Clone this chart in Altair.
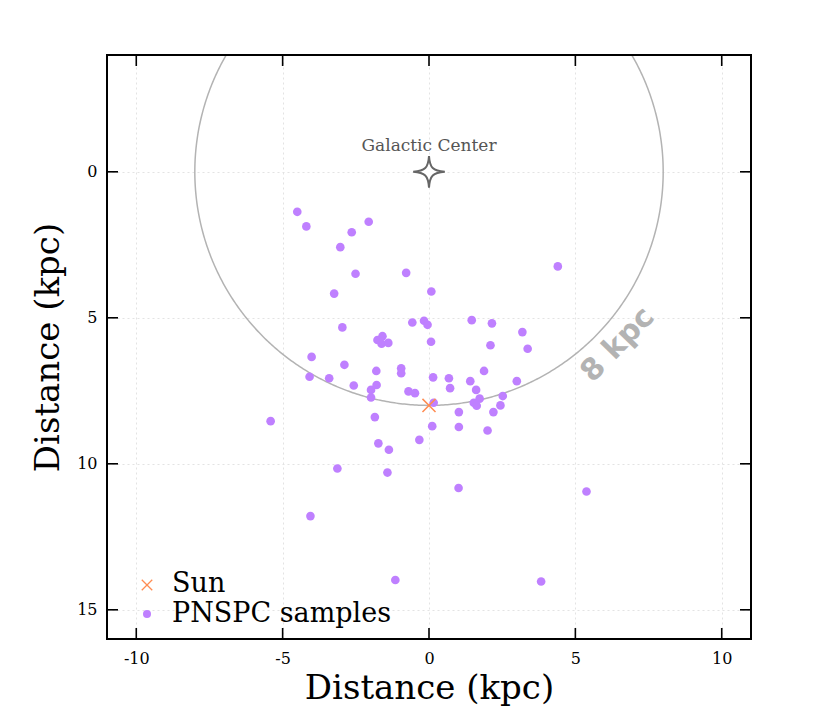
import altair as alt
import pandas as pd
import numpy as np

# ---- data ----
pn_x = [-4.50, -4.19, -2.06, -2.64, -3.03, -2.51, -0.78, -3.24, 0.08, 4.40,
        -2.96, -0.57, -0.17, -0.05, -1.59, -1.76, -1.62, -1.39, 0.07, 1.46,
        2.15, 3.19, 3.37, 2.10, -4.01, -2.89, -1.80, -0.95, -0.95, -4.08,
        -3.41, -2.57, -1.79, -1.98, -1.98, -0.70, -0.48, 0.14, 0.68, 0.72,
        1.41, 1.88, 1.61, 1.73, 1.53, 1.63, 3.00, 2.52, 2.44, 2.20,
        0.16, 1.02, 0.11, 1.02, 2.00, -5.41, -1.85, -0.33, -1.73, -1.37,
        -3.13, -1.42, -4.05, -1.15, 1.01, 5.38, 3.83]
pn_y = [1.37, 1.87, 1.71, 2.07, 2.58, 3.49, 3.46, 4.17, 4.10, 3.24,
        5.33, 5.16, 5.10, 5.24, 5.63, 5.76, 5.89, 5.86, 5.82, 5.08,
        5.19, 5.49, 6.06, 5.94, 6.34, 6.61, 6.82, 6.73, 6.90, 7.02,
        7.07, 7.32, 7.30, 7.47, 7.73, 7.52, 7.58, 7.04, 7.07, 7.41,
        7.17, 6.82, 7.47, 7.77, 7.91, 8.01, 7.17, 7.68, 8.00, 8.23,
        7.91, 8.23, 8.71, 8.74, 8.86, 8.54, 8.40, 9.18, 9.30, 9.52,
        10.16, 10.30, 11.79, 13.98, 10.83, 10.95, 14.03]
sun_x = [0.0]
sun_y = [8.0]
gc_x = [0.0]
gc_y = [0.0]
gc_label = ["Galactic Center"]
ring_radius = 8
ring_label = ["8 kpc"]
ring_label_x = [6.45]
ring_label_y = [5.92]
x_ticks = [-10, -5, 0, 5, 10]
y_ticks = [0, 5, 10, 15]
legend_labels = ["Sun", "PNSPC samples"]

W, H = 644, 584
SERIF = "DejaVu Serif"

xs = alt.Scale(domain=[-11, 11], nice=False, zero=False)
ys = alt.Scale(domain=[-4, 16], reverse=True, nice=False, zero=False)

x_axis = alt.Axis(values=x_ticks, grid=True, gridDash=[2, 3], gridColor="#e3e3e3",
                  ticks=False, domain=False, labelFont=SERIF, labelFontSize=16,
                  labelColor="black", labelPadding=11, labelExpr="datum.value",
                  title="Distance (kpc)", titleFont=SERIF, titleFontSize=34,
                  titleFontWeight="normal", titleColor="black", titlePadding=5)
y_axis = alt.Axis(values=y_ticks, grid=True, gridDash=[2, 3], gridColor="#e3e3e3",
                  ticks=False, domain=False, labelFont=SERIF, labelFontSize=16,
                  labelColor="black", labelPadding=10, labelExpr="datum.value",
                  title="Distance (kpc)", titleFont=SERIF, titleFontSize=34,
                  titleFontWeight="normal", titleColor="black", titlePadding=11)

def X(f):
    return alt.X(f, scale=xs, axis=x_axis)

def Y(f):
    return alt.Y(f, scale=ys, axis=y_axis)

# ring of radius 8 kpc around the Galactic Center
t = np.linspace(0, 2 * np.pi, 721)
ring_df = pd.DataFrame({"x": ring_radius * np.cos(t), "y": ring_radius * np.sin(t),
                        "o": np.arange(len(t))})
ring = alt.Chart(ring_df).mark_line(clip=True, color="#b3b3b3", strokeWidth=1.5).encode(
    x=X("x:Q"), y=Y("y:Q"), order="o:Q")

ring_text = alt.Chart(pd.DataFrame({"x": ring_label_x, "y": ring_label_y, "t": ring_label})).mark_text(
    angle=314, font="DejaVu Sans", fontWeight="bold", fontSize=30, color="#b3b3b3",
    align="center", baseline="middle").encode(x=X("x:Q"), y=Y("y:Q"), text="t:N")

gc_df = pd.DataFrame({"x": gc_x, "y": gc_y, "t": gc_label})
star_path = ("M0,-1 C0.05,-0.25 0.25,-0.05 1,0 C0.25,0.05 0.05,0.25 0,1 "
             "C-0.05,0.25 -0.25,0.05 -1,0 C-0.25,-0.05 -0.05,-0.25 0,-1 Z")
star = alt.Chart(gc_df).mark_point(shape=star_path, size=1000, filled=True, fill="white",
                                   stroke="#666666", strokeWidth=2, opacity=1).encode(
    x=X("x:Q"), y=Y("y:Q"))
gc_text = alt.Chart(gc_df).mark_text(dy=-26, font=SERIF, fontSize=17, color="#555555",
                                     baseline="middle").encode(
    x=X("x:Q"), y=Y("y:Q"), text="t:N")

SUN_COLOR = "#ff8c52"
PN_COLOR = "#bf80ff"
x_path = "M-1,-1L1,1M-1,1L1,-1"

pn = alt.Chart(pd.DataFrame({"x": pn_x, "y": pn_y})).mark_circle(
    size=75, color=PN_COLOR, opacity=1).encode(x=X("x:Q"), y=Y("y:Q"))
sun = alt.Chart(pd.DataFrame({"x": sun_x, "y": sun_y})).mark_point(
    shape=x_path, size=170, filled=False, color=SUN_COLOR, strokeWidth=1.5, opacity=1).encode(
    x=X("x:Q"), y=Y("y:Q"))

# inward ticks on all four sides
xt_df = pd.DataFrame({"v": x_ticks})
yt_df = pd.DataFrame({"v": y_ticks})
tick_style = dict(color="black", strokeWidth=1.6)
xt_bottom = alt.Chart(xt_df).mark_rule(**tick_style).encode(
    x=X("v:Q"), y=alt.value(H), y2=alt.value(H - 11))
xt_top = alt.Chart(xt_df).mark_rule(**tick_style).encode(
    x=X("v:Q"), y=alt.value(0), y2=alt.value(11))
yt_left = alt.Chart(yt_df).mark_rule(**tick_style).encode(
    y=Y("v:Q"), x=alt.value(0), x2=alt.value(11))
yt_right = alt.Chart(yt_df).mark_rule(**tick_style).encode(
    y=Y("v:Q"), x=alt.value(W), x2=alt.value(W - 11))

# black frame around the plot area
frame = alt.Chart(pd.DataFrame({"k": [0]})).mark_rect(
    fill=None, fillOpacity=0, stroke="black", strokeWidth=2).encode(
    x=alt.value(0), x2=alt.value(W), y=alt.value(0), y2=alt.value(H))

# legend (lower left)
leg_sun = alt.Chart(pd.DataFrame({"t": [legend_labels[0]]})).mark_point(
    shape=x_path, size=110, filled=False, color=SUN_COLOR, strokeWidth=1.3, opacity=1).encode(
    x=alt.value(40), y=alt.value(530))
leg_pn = alt.Chart(pd.DataFrame({"t": [legend_labels[1]]})).mark_circle(
    size=64, color=PN_COLOR, opacity=1).encode(x=alt.value(40), y=alt.value(559))
leg_t1 = alt.Chart(pd.DataFrame({"t": [legend_labels[0]]})).mark_text(
    font=SERIF, fontSize=27, align="left", baseline="middle", color="black").encode(
    x=alt.value(65), y=alt.value(529), text="t:N")
leg_t2 = alt.Chart(pd.DataFrame({"t": [legend_labels[1]]})).mark_text(
    font=SERIF, fontSize=27, align="left", baseline="middle", color="black").encode(
    x=alt.value(65), y=alt.value(559), text="t:N")

chart = alt.layer(
    ring, ring_text, star, gc_text, pn, sun,
    xt_bottom, xt_top, yt_left, yt_right, frame,
    leg_sun, leg_pn, leg_t1, leg_t2
).properties(
    width=W, height=H,
    autosize=alt.AutoSizeParams(type="none"),
    padding={"left": 99, "top": 47, "right": 30, "bottom": 75},
).configure_view(stroke=None).configure(background="white")

chart.save("out.html", embed_options={"renderer": "svg", "actions": False})
